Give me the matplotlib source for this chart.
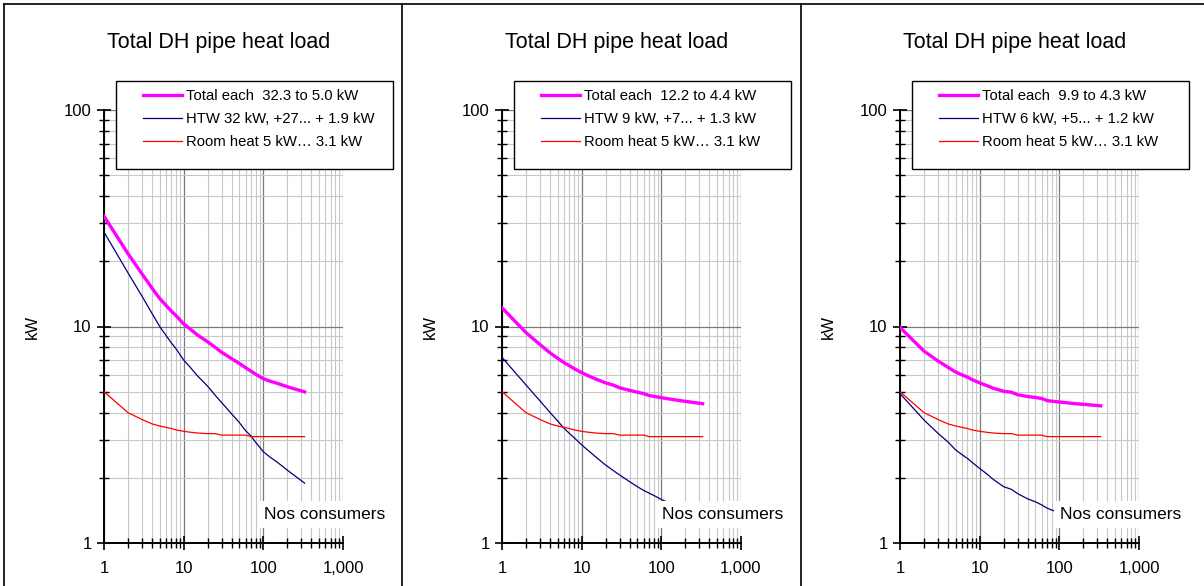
import matplotlib
matplotlib.use('Agg')
import matplotlib.pyplot as plt
from matplotlib.lines import Line2D
from matplotlib.patches import Rectangle
from matplotlib.ticker import LogLocator, FuncFormatter, NullFormatter

plt.rcParams['font.family'] = ['Liberation Sans', 'DejaVu Sans']

# number of consumers
consumers = [1, 2, 3, 4, 5, 6, 7, 8, 10, 12, 15, 20, 25, 30, 40, 50, 60, 70, 80,
             100, 120, 150, 200, 250, 330]

# room heat (same in all three cases)
room = [5.0, 4.0, 3.72, 3.55, 3.47, 3.42, 3.38, 3.33, 3.28, 3.25, 3.22, 3.2, 3.2,
        3.15, 3.15, 3.15, 3.15, 3.1, 3.1, 3.1, 3.1, 3.1, 3.1, 3.1, 3.1]

# hot tap water per consumer, three cases
htw_a = [27.3, 17.7, 13.8, 11.5, 10.0, 9.1, 8.4, 7.9, 7.0, 6.5, 5.9, 5.3, 4.8,
         4.45, 3.95, 3.6, 3.3, 3.12, 2.92, 2.64, 2.5, 2.36, 2.17, 2.04, 1.89]
htw_b = [7.2, 5.37, 4.53, 4.01, 3.66, 3.39, 3.21, 3.07, 2.84, 2.68, 2.5, 2.29, 2.16,
         2.06, 1.92, 1.82, 1.75, 1.70, 1.66, 1.59, 1.54, 1.48, 1.41, 1.36, 1.3]
htw_c = [4.9, 3.7, 3.21, 2.93, 2.69, 2.56, 2.46, 2.36, 2.21, 2.1, 1.96, 1.82, 1.77,
         1.69, 1.6, 1.55, 1.5, 1.45, 1.42, 1.38, 1.35, 1.31, 1.27, 1.24, 1.2]

# total per consumer
total_a = [32.3, 21.7, 17.5, 15.05, 13.47, 12.52, 11.78, 11.23, 10.28, 9.75, 9.12,
           8.5, 8.0, 7.6, 7.1, 6.75, 6.45, 6.22, 6.02, 5.74, 5.6, 5.46, 5.27, 5.14, 4.99]
total_b = [12.2, 9.37, 8.25, 7.56, 7.13, 6.81, 6.59, 6.4, 6.12, 5.93, 5.72, 5.49,
           5.36, 5.21, 5.07, 4.97, 4.9, 4.8, 4.76, 4.69, 4.64, 4.58, 4.51, 4.46, 4.4]
total_c = [9.9, 7.7, 6.93, 6.48, 6.16, 5.98, 5.84, 5.69, 5.49, 5.35, 5.18, 5.02,
           4.97, 4.84, 4.75, 4.7, 4.65, 4.55, 4.52, 4.48, 4.45, 4.41, 4.37, 4.34, 4.3]

panels = [
    (total_a, htw_a, ['Total each  32.3 to 5.0 kW', 'HTW 32 kW, +27... + 1.9 kW',
                      'Room heat 5 kW\u2026 3.1 kW']),
    (total_b, htw_b, ['Total each  12.2 to 4.4 kW', 'HTW 9 kW, +7... + 1.3 kW',
                      'Room heat 5 kW\u2026 3.1 kW']),
    (total_c, htw_c, ['Total each  9.9 to 4.3 kW', 'HTW 6 kW, +5... + 1.2 kW',
                      'Room heat 5 kW\u2026 3.1 kW']),
]

W, H = 1204, 586
fig = plt.figure(figsize=(W / 100, H / 100), dpi=100)

# panel frame lines
for x in [4, 402, 801]:
    fig.add_artist(Line2D([x / W, x / W], [0, 1 - 4 / H], color='#111111', lw=1.3))
fig.add_artist(Line2D([4 / W, 1], [1 - 4 / H, 1 - 4 / H], color='#111111', lw=1.3))

lefts = [104, 502, 900]
fmt = FuncFormatter(lambda v, p: f'{v:,.0f}')

for left, (total, htw, labels) in zip(lefts, panels):
    ax = fig.add_axes([left / W, 1 - 543 / H, 239 / W, 433 / H])
    ax.set_xscale('log')
    ax.set_yscale('log')
    ax.set_xlim(1, 1000)
    ax.set_ylim(1, 100)

    l1, = ax.plot(consumers, total, color='#FF00FF', lw=2.4, zorder=3)
    l2, = ax.plot(consumers, htw, color='#000080', lw=0.9, zorder=3)
    l3, = ax.plot(consumers, room, color='#FF0000', lw=0.9, zorder=3)

    for a in (ax.xaxis, ax.yaxis):
        a.set_major_locator(LogLocator(base=10))
        a.set_minor_locator(LogLocator(base=10, subs=range(2, 10)))
        a.set_major_formatter(fmt)
        a.set_minor_formatter(NullFormatter())

    ax.grid(which='minor', color='#c8c8c8', lw=0.8)
    ax.grid(which='major', color='#7a7a7a', lw=0.9)
    ax.set_axisbelow(True)
    for s in ['top', 'right']:
        ax.spines[s].set_visible(False)
    for s in ['left', 'bottom']:
        ax.spines[s].set_linewidth(1.4)
        ax.spines[s].set_color('black')

    ax.tick_params(which='major', direction='inout', length=10, width=1.2,
                   labelsize=12, colors='black')
    ax.tick_params(which='minor', direction='inout', length=7, width=1)
    ax.tick_params(axis='x', which='major', pad=8)
    ax.tick_params(axis='y', which='major', pad=4)

    ax.set_ylabel('kW', fontsize=12)
    ax.yaxis.set_label_coords(-0.268, 0.5)

    ax.text(0.48, 1.155, 'Total DH pipe heat load', transform=ax.transAxes,
            ha='center', va='center', fontsize=15.5)

    ax.text(0.67, 0.065, 'Nos consumers', transform=ax.transAxes, ha='left',
            va='center', fontsize=12.5, zorder=6, clip_on=False,
            bbox=dict(boxstyle='square,pad=0.35', fc='white', ec='none'))

    rect = Rectangle((0.05, 0.864), 1.159, 0.203, transform=ax.transAxes,
                     fc='white', ec='black', lw=1, clip_on=False, zorder=7)
    ax.add_patch(rect)
    leg = ax.legend([l1, l2, l3], labels, loc='upper left',
                    bbox_to_anchor=(0.152, 1.056), frameon=False,
                    fontsize=10.7, handlelength=2.6, handletextpad=0.25,
                    labelspacing=0.62, borderpad=0.2, borderaxespad=0)
    leg.set_zorder(8)

fig.savefig('out.png', dpi=100)
